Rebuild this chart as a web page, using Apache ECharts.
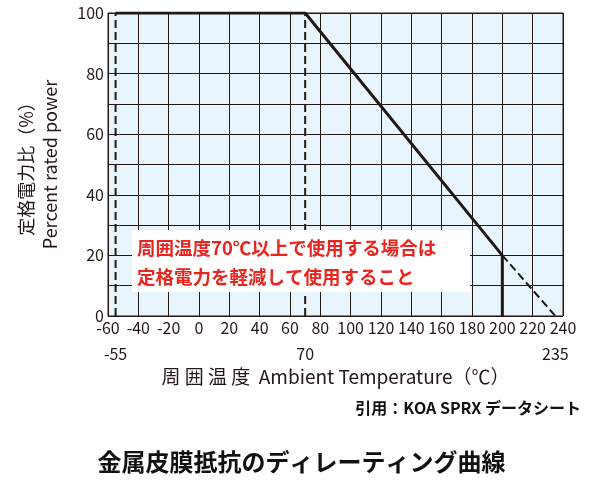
<!DOCTYPE html><html><head><meta charset="utf-8"><script src="https://cdn.jsdelivr.net/npm/echarts@6/dist/echarts.min.js"></script></head><body style="margin:0"><div id="c" style="width:603px;height:496px"></div><script>
const curveSolid=[[-55,100],[70,100],[200,20]];
const curveDashed=[[200,20],[235,0]];
const dropLine=[[200,20],[200,0]];
const guide1=[[-55,0],[-55,100]];
const guide2=[[70,0],[70,100]];
const specialTicks=[-55,70,235];
const F='"Noto Sans CJK JP", sans-serif';
const c=echarts.init(document.getElementById('c'));
const ln=(d,w,t)=>({type:'line',data:d,symbol:'none',lineStyle:{color:'#231815',width:w,type:t},z:5,silent:true});
c.setOption({animation:false,
grid:{left:108,right:40,top:13,bottom:180,backgroundColor:'#e8f5fc',show:true,borderColor:'#231815',borderWidth:1},
xAxis:[{type:'value',min:-60,max:240,interval:20,axisLine:{show:false},axisTick:{show:false},splitLine:{lineStyle:{color:'#231815',width:1}},axisLabel:{color:'#231815',fontSize:16,fontFamily:F,margin:4}},
{type:'value',position:'bottom',offset:22,min:-60,max:240,axisLine:{show:false},axisTick:{show:false},splitLine:{show:false},axisLabel:{customValues:specialTicks,color:'#231815',fontSize:16,fontFamily:F},
 name:'周 囲 温 度  Ambient Temperature（℃）',nameLocation:'middle',nameGap:26,nameTextStyle:{color:'#231815',fontSize:19,fontFamily:F}}],
yAxis:{type:'value',min:0,max:100,interval:10,axisLine:{show:false},axisTick:{show:false},splitLine:{lineStyle:{color:'#231815',width:1}},
 axisLabel:{color:'#231815',fontSize:16,fontFamily:F,margin:4,formatter:v=>v%20===0?v:''},
 name:'定格電力比（%）\nPercent rated power',nameLocation:'middle',nameGap:46,nameTextStyle:{color:'#231815',fontSize:18,fontFamily:F,lineHeight:24}},
series:[ln(curveSolid,3,'solid'),ln(curveDashed,2,'dashed'),ln(dropLine,3,'solid'),ln(guide1,2,'dashed'),ln(guide2,2,'dashed')],
graphic:[{type:'rect',shape:{x:132,y:230,width:338,height:62},style:{fill:'#fff'},z:10},
{type:'text',x:137,y:233,style:{text:'周囲温度70℃以上で使用する場合は\n定格電力を軽減して使用すること',fill:'#e8251f',font:'bold 18.5px '+F,lineHeight:29},z:11},
{type:'text',right:22,top:400,style:{text:'引用：KOA SPRX データシート',fill:'#111',font:'bold 16px '+F}},
{type:'text',left:'center',top:450,style:{text:'金属皮膜抵抗のディレーティング曲線',fill:'#111',font:'bold 24px '+F}}]});
</script></body></html>
